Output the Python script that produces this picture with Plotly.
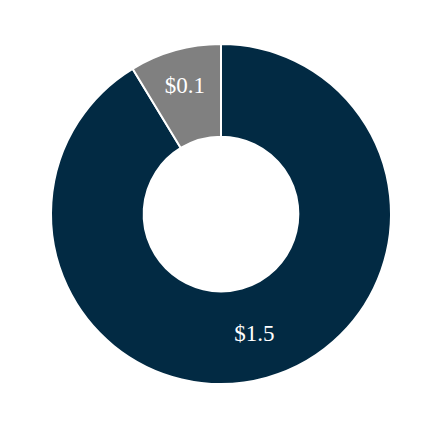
import plotly.graph_objects as go

labels = ["Main", "Other"]
values = [1.5, 0.143]
colors = ["#022a43", "#808080"]

fig = go.Figure(go.Pie(
    labels=labels,
    values=values,
    hole=0.455,
    sort=False,
    direction="clockwise",
    rotation=0,
    marker=dict(colors=colors, line=dict(color="white", width=2)),
    texttemplate="$%{value:.1f}",
    textposition="inside",
    insidetextorientation="horizontal",
    textfont=dict(family="Liberation Serif, Times New Roman, serif", size=23, color="white"),
    showlegend=False,
    hoverinfo="skip",
))
fig.update_layout(
    width=442, height=430,
    margin=dict(l=43, r=59, t=36, b=54),
    paper_bgcolor="white",
    plot_bgcolor="white",
)
fig.write_html("out.html")
